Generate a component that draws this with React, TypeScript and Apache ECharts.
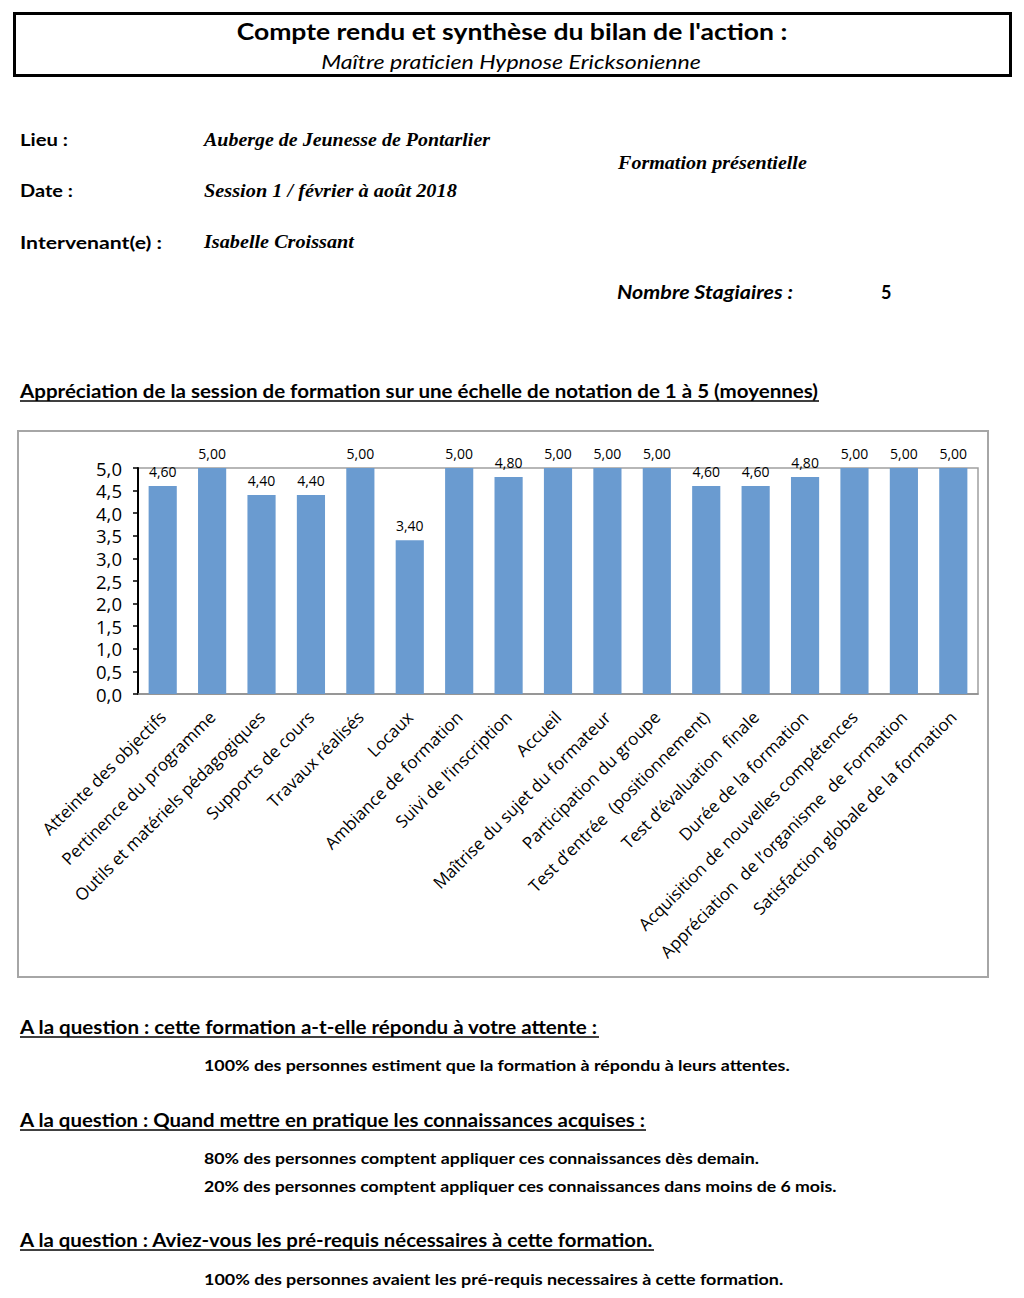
import React, { useEffect, useRef } from "react";
import * as echarts from "echarts";

const categories = [
  "Atteinte des objectifs",
  "Pertinence du programme",
  "Outils et matériels pédagogiques",
  "Supports de cours",
  "Travaux réalisés",
  "Locaux",
  "Ambiance de formation",
  "Suivi de l’inscription",
  "Accueil",
  "Maîtrise du sujet du formateur",
  "Participation du groupe",
  "Test d’entrée  (positionnement)",
  "Test d’évaluation  finale",
  "Durée de la formation",
  "Acquisition de nouvelles compétences",
  "Appréciation  de l’organisme  de Formation",
  "Satisfaction globale de la formation",
];

const scores = [4.6, 5.0, 4.4, 4.4, 5.0, 3.4, 5.0, 4.8, 5.0, 5.0, 5.0, 4.6, 4.6, 4.8, 5.0, 5.0, 5.0];

const yMin = 0;
const yMax = 5;
const yStep = 0.5;

const titleText = "Compte rendu et synthèse du bilan de l'action :";
const subtitleText = "Maître praticien Hypnose Ericksonienne";
const infoLabels = ["Lieu :", "Date :", "Intervenant(e) :"];
const infoValues = ["Auberge de Jeunesse de Pontarlier", "Session 1 / février à août 2018", "Isabelle Croissant"];
const formationType = "Formation présentielle";
const traineesLabel = "Nombre Stagiaires :";
const traineesCount = "5";
const chartHeading = "Appréciation de la session de formation sur une échelle de notation de 1 à 5 (moyennes)";
const questions = [
  "A la question : cette formation a-t-elle répondu à votre attente :",
  "A la question : Quand mettre en pratique les connaissances acquises :",
  "A la question : Aviez-vous les pré-requis nécessaires à cette formation.",
];
const answers = [
  "100% des personnes estiment que la formation à répondu à leurs attentes.",
  "80% des personnes comptent appliquer ces connaissances dès demain.",
  "20% des personnes comptent appliquer ces connaissances dans moins de 6 mois.",
  "100% des personnes avaient les pré-requis necessaires à cette formation.",
];

const SANS = "Lato";
const SERIF = '"Liberation Serif"';
const CHART_FONT = '"Open Sans"';

let measureCtx: CanvasRenderingContext2D | null = null;
function measure(text: string, font: string): number {
  if (!measureCtx) measureCtx = document.createElement("canvas").getContext("2d");
  if (!measureCtx) return 0;
  measureCtx.font = font;
  return measureCtx.measureText(text).width;
}

function fitText(
  text: string,
  x: number,
  y: number,
  font: string,
  width: number | null,
  align: "left" | "center" = "left",
  underline = 0
): any[] {
  const w = measure(text, font);
  const s = width && w > 0 ? width / w : 1;
  const els: any[] = [
    {
      type: "text",
      x,
      y,
      scaleX: s,
      style: { text, font, fill: "#000", textAlign: align, textVerticalAlign: "middle" },
    },
  ];
  if (underline) {
    const realW = w * s;
    const x0 = align === "center" ? x - realW / 2 : x;
    els.push({
      type: "line",
      shape: { x1: x0, y1: y + underline, x2: x0 + realW, y2: y + underline },
      style: { stroke: "#000", lineWidth: 1.4 },
    });
  }
  return els;
}

export default function App() {
  const ref = useRef<HTMLDivElement>(null);

  useEffect(() => {
    if (!ref.current) return;
    const chart = echarts.init(ref.current, undefined, { renderer: "svg" });

    const fmt2 = (v: number) => v.toFixed(2).replace(".", ",");
    const fmt1 = (v: number) => v.toFixed(1).replace(".", ",");

    const g: any[] = [];
    g.push({
      type: "rect",
      shape: { x: 14.5, y: 13.5, width: 996, height: 62 },
      style: { fill: "none", stroke: "#000", lineWidth: 3 },
    });
    g.push(...fitText(titleText, 512, 31, `bold 22px ${SANS}`, 551, "center"));
    g.push(...fitText(subtitleText, 511, 62, `italic 19px ${SANS}`, 380, "center"));

    const infoY = [140, 191, 242];
    const labelW = [48, 53, 142];
    const valueW = [286, 253, 150];
    infoLabels.forEach((t, i) => g.push(...fitText(t, 20, infoY[i], `bold 17px ${SANS}`, labelW[i])));
    infoValues.forEach((t, i) => g.push(...fitText(t, 204, infoY[i], `italic bold 18px ${SERIF}`, valueW[i])));
    g.push(...fitText(formationType, 618, 163, `italic bold 18px ${SERIF}`, 189));
    g.push(...fitText(traineesLabel, 617, 292, `italic bold 18px ${SANS}`, 176));
    g.push(...fitText(traineesCount, 881, 292, `bold 18px ${SANS}`, null));

    g.push(...fitText(chartHeading, 20, 391, `bold 18px ${SANS}`, 799, "left", 10));

    g.push({
      type: "rect",
      shape: { x: 18, y: 431, width: 970, height: 546 },
      style: { fill: "none", stroke: "#a6a6a6", lineWidth: 2 },
    });

    const qY = [1027, 1120, 1240];
    const qW = [579, 626, 634];
    questions.forEach((t, i) => g.push(...fitText(t, 20, qY[i], `bold 18.5px ${SANS}`, qW[i], "left", 10)));
    const aY = [1065, 1158, 1186, 1279];
    const aW = [586, 556, 633, 580];
    answers.forEach((t, i) => g.push(...fitText(t, 204, aY[i], `bold 16px ${SANS}`, aW[i])));

    chart.setOption({
      animation: false,
      backgroundColor: "#fff",
      graphic: { elements: g },
      grid: {
        left: 138,
        right: 46,
        top: 468,
        bottom: 604,
        show: true,
        borderColor: "#a0a0a0",
        borderWidth: 1.5,
      },
      xAxis: {
        type: "category",
        data: categories,
        axisLine: { show: true, lineStyle: { color: "#8c8c8c", width: 1.5 } },
        axisTick: { show: false },
        axisLabel: {
          interval: 0,
          rotate: 45,
          fontFamily: CHART_FONT,
          fontSize: 17,
          color: "#000",
          margin: 20,
        },
      },
      yAxis: {
        type: "value",
        min: yMin,
        max: yMax,
        interval: yStep,
        axisLine: { show: true, lineStyle: { color: "#000", width: 2 } },
        axisTick: { show: true, inside: false, length: 5, lineStyle: { color: "#000", width: 1.5 } },
        splitLine: { show: false },
        axisLabel: {
          formatter: (v: number) => fmt1(v),
          fontFamily: CHART_FONT,
          fontSize: 18.5,
          lineHeight: 20,
          color: "#000",
          margin: 16,
        },
      },
      series: [
        {
          type: "bar",
          data: scores,
          barCategoryGap: "43%",
          itemStyle: { color: "#6a9bd0" },
          label: {
            show: true,
            position: "top",
            distance: 8,
            formatter: (p: any) => fmt2(p.value),
            fontFamily: CHART_FONT,
            fontSize: 14,
            color: "#000",
          },
        },
      ],
    });

    return () => chart.dispose();
  }, []);

  return (
    <div
      ref={ref}
      style={{ position: "absolute", left: 0, top: 0, width: 1024, height: 1298, background: "#fff" }}
    />
  );
}
